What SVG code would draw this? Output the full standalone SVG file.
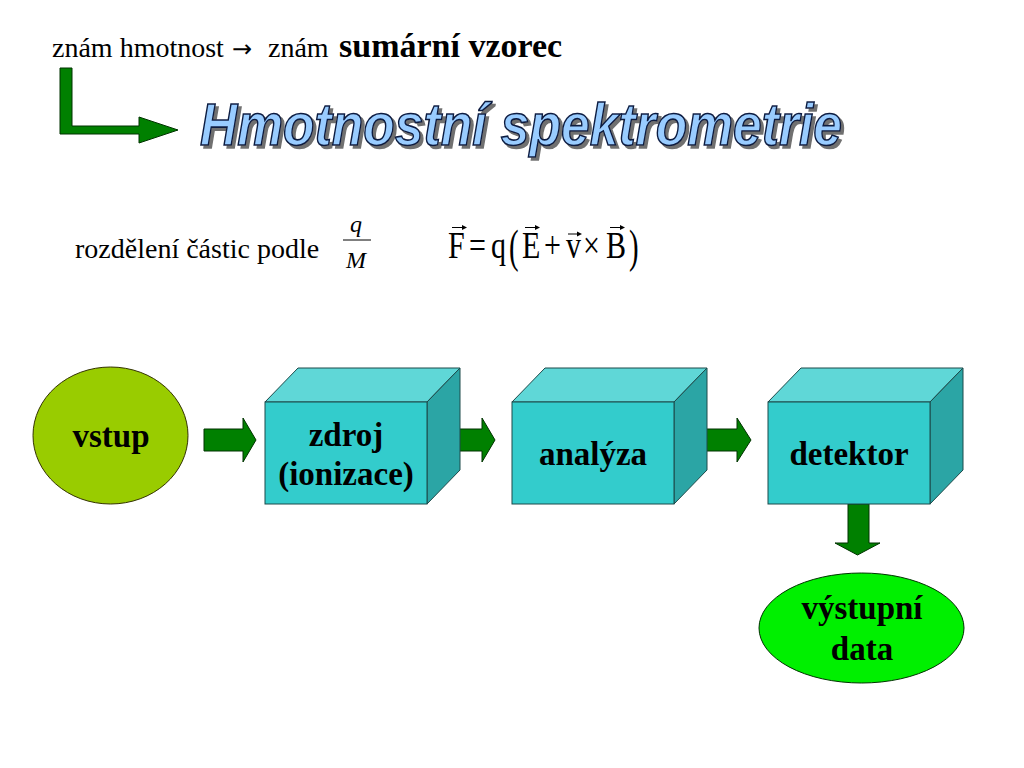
<svg xmlns="http://www.w3.org/2000/svg" width="1024" height="768" viewBox="0 0 1024 768">
<style>
.serif{font-family:"Liberation Serif","Times New Roman",serif;fill:#000}
.lbl{font-family:"Liberation Serif","Times New Roman",serif;font-weight:bold;font-size:33px;fill:#000;text-anchor:middle}
.front{fill:#33CCCC;stroke:#1d4a4a;stroke-width:1}
.top{fill:#5FD7D7;stroke:#1d4a4a;stroke-width:1}
.side{fill:#2BA5A5;stroke:#1d4a4a;stroke-width:1}
.garrow{fill:#008000;stroke:#003300;stroke-width:1}
.vec{stroke:#000;stroke-width:1.2;fill:none}
.vh{fill:#000}
.title{font-family:"Liberation Sans",Arial,sans-serif;font-weight:bold;font-style:italic;font-size:59px}
</style>
<defs>
<filter id="shadow" x="-5%" y="-20%" width="110%" height="150%">
<feDropShadow dx="3" dy="3" stdDeviation="0.6" flood-color="#707070" flood-opacity="1"/>
</filter>
</defs>
<rect width="1024" height="768" fill="#fff"/>

<g id="header">
<text class="serif" x="52" y="57" font-size="28">znám hmotnost<tspan x="232" font-family="DejaVu Sans, sans-serif" font-size="24">→</tspan><tspan x="268">znám</tspan><tspan x="339" font-weight="bold" font-size="34">sumární vzorec</tspan></text>
</g>

<g id="bent-arrow">
<polygon class="garrow" points="60,68 72,68 72,126 139,126 139,117 178,130 139,143 139,134 60,134"/>
</g>

<g id="title" filter="url(#shadow)">
<text class="title" x="200" y="145" textLength="642" lengthAdjust="spacingAndGlyphs" fill="#99CCFF" stroke="#0a1a40" stroke-width="1.6">Hmotnostní spektrometrie</text>
</g>

<g id="formula">
<text class="serif" x="75" y="258" font-size="28">rozdělení částic podle</text>
<text class="serif" x="356" y="232" font-size="24" font-style="italic" text-anchor="middle">q</text>
<line x1="343" y1="240" x2="371" y2="240" stroke="#000" stroke-width="1"/>
<text class="serif" x="356" y="268" font-size="24" font-style="italic" text-anchor="middle">M</text>

<g transform="translate(0,258) scale(1,1.25) translate(0,-258)">
<text class="serif" x="448" y="258" font-size="30">F</text>
<text class="serif" x="469" y="258" font-size="30">=</text>
<text class="serif" x="491" y="258" font-size="30">q</text>
<text class="serif" x="522" y="258" font-size="30">E</text>
<text class="serif" x="544" y="258" font-size="30">+</text>
<text class="serif" x="566" y="258" font-size="30">v</text>
<text class="serif" x="583" y="258" font-size="30">×</text>
<text class="serif" x="606" y="258" font-size="30">B</text>
</g>
<text class="serif" transform="translate(509,262) scale(0.9,1.45)" font-size="32">(</text>
<text class="serif" transform="translate(629,262) scale(0.9,1.45)" font-size="32">)</text>

<path class="vec" d="M452 227.5H463M525 227.5H536M568 234H578M610 227.5H621"/>
<polygon class="vh" points="462,225 467,227.5 462,230"/>
<polygon class="vh" points="535,225 540,227.5 535,230"/>
<polygon class="vh" points="577,231.5 582,234 577,236.5"/>
<polygon class="vh" points="620,225 625,227.5 620,230"/>
</g>

<g id="connectors">
<polygon class="garrow" points="204,429 243,429 243,418 256,440 243,462 243,451 204,451"/>
<polygon class="garrow" points="443,429 482,429 482,418 495,440 482,462 482,451 443,451"/>
<polygon class="garrow" points="699,429 737,429 737,418 751,440 737,462 737,451 699,451"/>
<polygon class="garrow" points="848,504 869,504 869,543 880,543 857.5,555 835,543 848,543"/>
</g>

<g id="vstup">
<ellipse cx="110.5" cy="435.5" rx="77.5" ry="68.5" fill="#99CC00" stroke="#333300" stroke-width="1"/>
<text class="lbl" x="111" y="447">vstup</text>
</g>

<g id="zdroj">
<polygon class="top" points="265,402 298,368 460,368 427,402"/>
<polygon class="side" points="427,402 460,368 460,470 427,504"/>
<rect class="front" x="265" y="402" width="162" height="102"/>
<text class="lbl" x="346" y="446">zdroj</text>
<text class="lbl" x="346" y="485">(ionizace)</text>
</g>

<g id="analyza">
<polygon class="top" points="512,402 545,368 707,368 674,402"/>
<polygon class="side" points="674,402 707,368 707,470 674,504"/>
<rect class="front" x="512" y="402" width="162" height="102"/>
<text class="lbl" x="593" y="465">analýza</text>
</g>

<g id="detektor">
<polygon class="top" points="768,402 801,368 963,368 930,402"/>
<polygon class="side" points="930,402 963,368 963,470 930,504"/>
<rect class="front" x="768" y="402" width="162" height="102"/>
<text class="lbl" x="849" y="465">detektor</text>
</g>

<g id="vystup">
<ellipse cx="861.5" cy="628" rx="102.5" ry="55" fill="#00F000" stroke="#003300" stroke-width="1"/>
<text class="lbl" x="862" y="619">výstupní</text>
<text class="lbl" x="862" y="660">data</text>
</g>
</svg>
